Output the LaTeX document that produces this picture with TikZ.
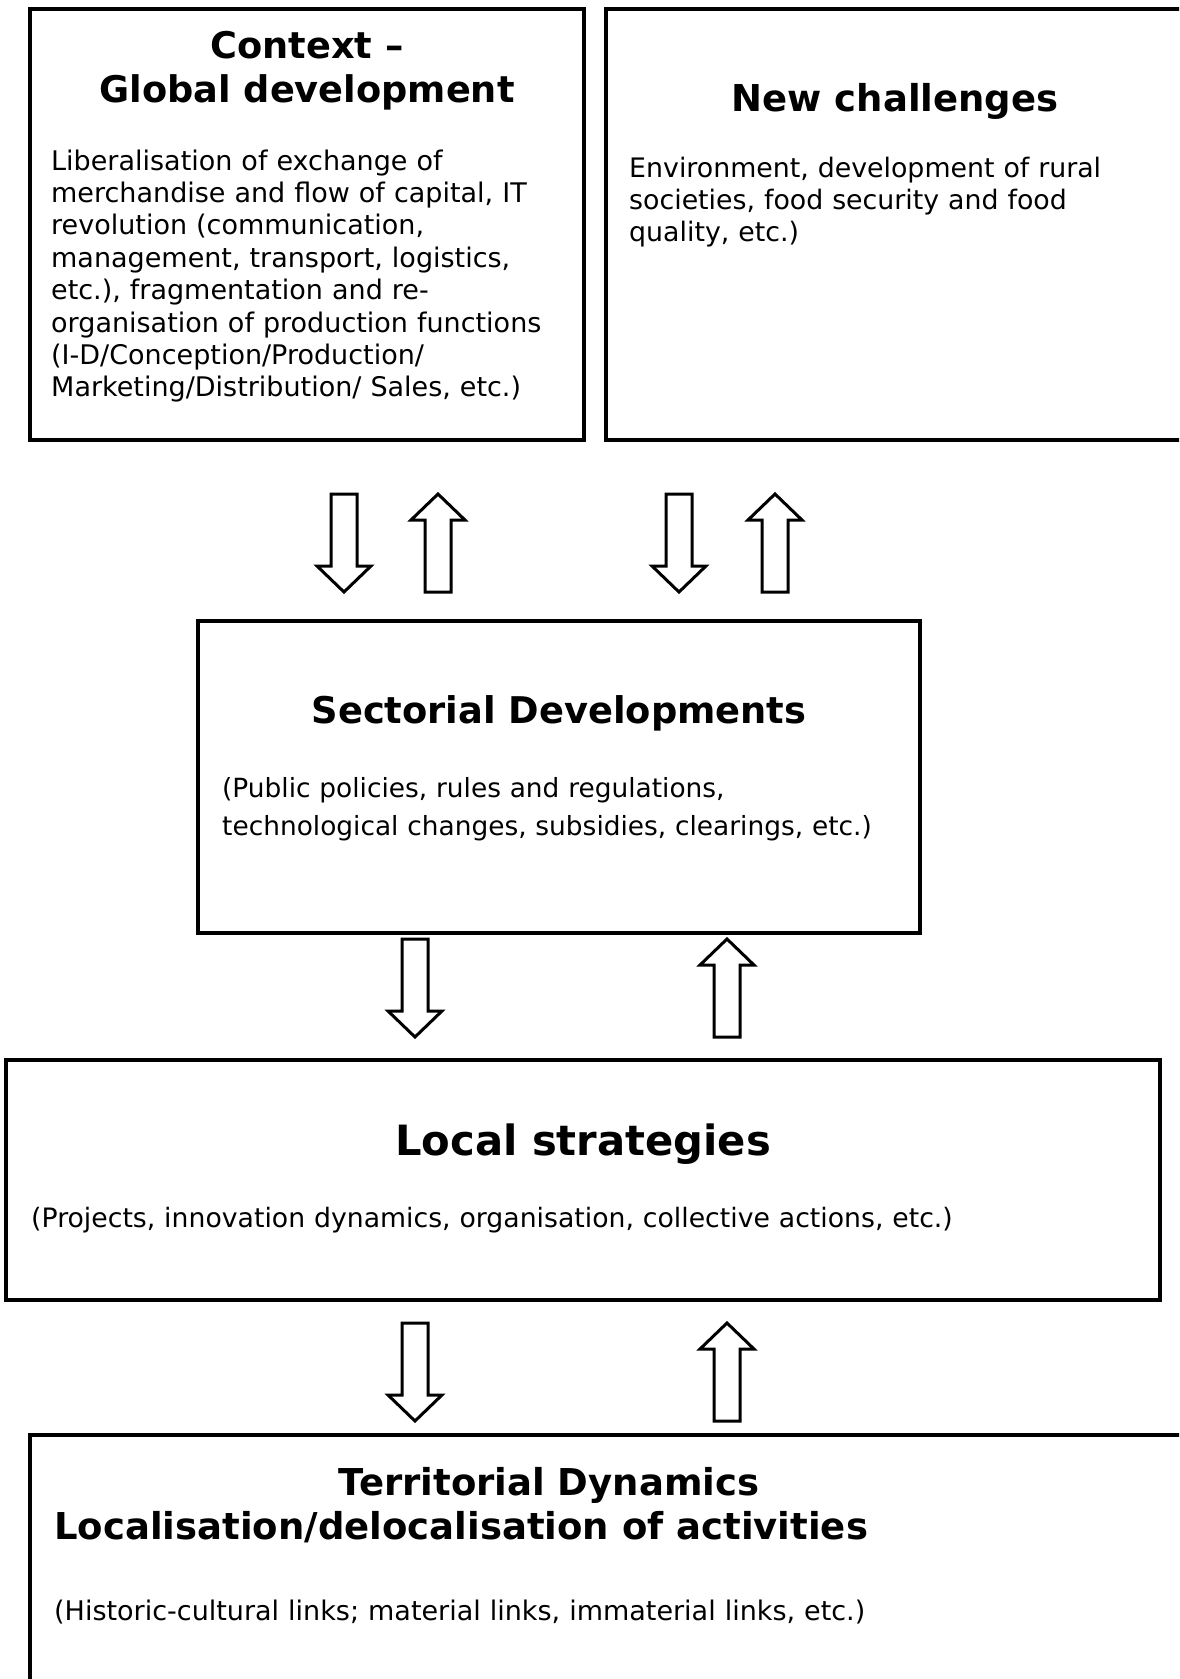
\documentclass[tikz,border=0pt]{standalone}
\usepackage{fontspec}
\setmainfont{DejaVu Sans}

\tikzset{
  pics/downarrow/.style={code={
    \draw[hollow] (-13,0) -- (13,0) -- (13,#1-26) -- (27,#1-26) -- (0,#1) -- (-27,#1-26) -- (-13,#1-26) -- cycle;}},
  pics/uparrow/.style={code={
    \draw[hollow] (0,0) -- (27,26) -- (13,26) -- (13,#1) -- (-13,#1) -- (-13,26) -- (-27,26) -- cycle;}}
}

\begin{document}
\begin{tikzpicture}[x=1pt, y=-1pt,
  box/.style={draw, line width=3.5pt, inner sep=0pt},
  hollow/.style={draw, line width=3pt, fill=white},
  head/.style={font=\bfseries\fontsize{#1}{#1}\selectfont, inner sep=0pt, anchor=base},
  body/.style 2 args={font=\fontsize{#1}{#2}\selectfont, align=left, text width=1100pt, inner sep=0pt, anchor=base west}]
\useasboundingbox (0,0) rectangle (1179,1679);
\clip (0,0) rectangle (1179,1679);

% boxes
\node[box, minimum width=554, minimum height=431] (context) at (307,224.5) {};
\node[box, minimum width=578, minimum height=431] (challenges) at (895,224.5) {};
\node[box, minimum width=722, minimum height=312] (sectorial) at (559,777) {};
\node[box, minimum width=1154, minimum height=240] (local) at (583,1180) {};
\node[box, minimum width=1180, minimum height=270] (territorial) at (620,1570) {};

% texts
\node[head=36.7] (contextA) at (307,58) {Context –};
\node[head=36.7] (contextB) at (307,102) {Global development};
\node[body={27}{32.4}] (contextText) at (51,170) {Liberalisation of exchange of\\
merchandise and flow of capital, IT\\
revolution (communication,\\
management, transport, logistics,\\
etc.), fragmentation and re-\\
organisation of production functions\\
(I-D/Conception/Production/\\
Marketing/Distribution/ Sales, etc.)};

\node[head=37] (challengesA) at (895,111) {New challenges};
\node[body={26.8}{32.2}] (challengesText) at (629,177) {Environment, development of rural\\
societies, food security and food\\
quality, etc.)};

\node[head=36.8] (sectorialA) at (559,723) {Sectorial Developments};
\node[body={26.4}{38.5}] (sectorialText) at (222,797) {(Public policies, rules and regulations,\\
technological changes, subsidies, clearings, etc.)};

\node[head=41.7] (localA) at (583,1155) {Local strategies};
\node[body={26.7}{32}] (localText) at (31,1227) {(Projects, innovation dynamics, organisation, collective actions, etc.)};

\node[head=37] (territorialA) at (549,1495) {Territorial Dynamics};
\node[head=37, anchor=base west] (territorialB) at (54,1539) {Localisation/delocalisation of activities};
\node[body={27}{32}] (territorialText) at (54,1620) {(Historic-cultural links; material links, immaterial links, etc.)};

% arrows
\foreach \x in {344,679}
  \pic at (\x,494) {downarrow=98};
\foreach \x in {438,775}
  \pic at (\x,494) {uparrow=98};
\pic at (415,939) {downarrow=98};
\pic at (727,939) {uparrow=98};
\pic at (415,1323) {downarrow=98};
\pic at (727,1323) {uparrow=98};
\end{tikzpicture}
\end{document}
